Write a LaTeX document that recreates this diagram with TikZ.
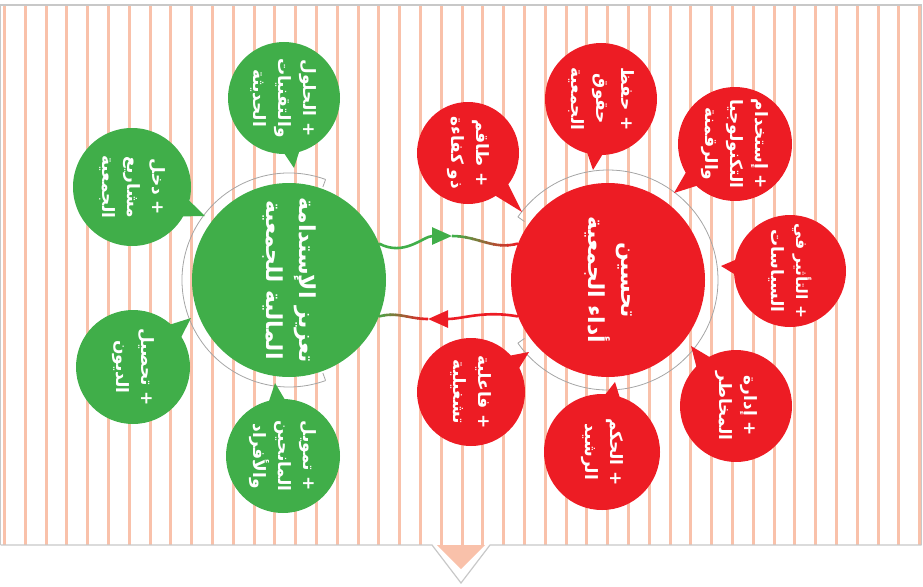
\documentclass[tikz,border=0pt]{standalone}
\usepackage{fontspec}
\setmainfont{DejaVu Sans}
\newfontfamily\arabicfont[Script=Arabic]{DejaVu Sans}
\TeXXeTstate=1
\usetikzlibrary{arrows.meta,calc}
\definecolor{gcol}{RGB}{64,174,73}
\definecolor{rcol}{RGB}{237,28,36}
\definecolor{stripecol}{RGB}{249,193,170}
\definecolor{framecol}{RGB}{200,200,200}
\definecolor{arcgray}{RGB}{165,165,165}
\newcommand{\AR}[1]{\beginR #1\endR}
\newcommand{\bubble}[7]{%
  \coordinate (#1tip) at (#5);
  \node[bub=#4pt, fill=#6] (#1) at (#2,#3) {};
  \pgfmathsetmacro{\bd}{0.42*#4}
  \fill[#6] ($(#1.center)!\bd pt!15:(#1tip)$) -- (#1tip) -- ($(#1.center)!\bd pt!-15:(#1tip)$) -- cycle;
  \node[btext] (#1t) at (#1) {#7};
}
\begin{document}
\begin{tikzpicture}[x=1pt,y=-1pt,
  bub/.style={circle,inner sep=0pt,minimum size=#1},
  btext/.style={rotate=-90,align=center,text=white,inner sep=0pt,font=\arabicfont\bfseries\fontsize{17}{25}\selectfont},
  mtext/.style={rotate=-90,align=center,text=white,inner sep=0pt,font=\arabicfont\bfseries\fontsize{22}{33}\selectfont},
  conn/.style={line width=2.6pt},
  arcline/.style={draw=arcgray,line width=0.8pt}]
\useasboundingbox (0,0) rectangle (923,586);
% stripes
\foreach \i in {0,...,44}{
  \fill[stripecol] ({3+20.8*\i},5) rectangle ++(3,540);
}
% frame
\draw[framecol,line width=1.2pt] (0.6,545) -- (0.6,5) -- (921.5,5) -- (921.5,545);
\fill[stripecol] (437,545) -- (461,569) -- (485,545) -- cycle;
\draw[framecol,line width=1.2pt] (0.6,545) -- (432,545) -- (461,583) -- (490,545) -- (921.5,545);
% main circles
\node[bub=194pt, fill=gcol] (g) at (289,280) {};
\node[bub=194pt, fill=rcol] (r) at (608,280) {};
% gray arcs
\draw[arcline] ($(g)+(-70:107)$) arc[start angle=-70,end angle=-290,radius=107];
\draw[arcline] ($(g)+(-70:107)$) -- ($(g)+(-70:99)$);
\draw[arcline] ($(g)+(70:107)$) -- ($(g)+(70:99)$);
\draw[arcline] ($(r)+(-145:110)$) arc[start angle=-145,end angle=145,radius=110];
\draw[arcline] ($(r)+(-145:110)$) -- ($(r)+(-145:102)$);
\draw[arcline] ($(r)+(145:110)$) -- ($(r)+(145:102)$);
% connectors
\coordinate (tm) at (452,236);
\coordinate (bm) at (428,319);
\draw[conn,gcol,-{Triangle[length=20pt,width=17pt]}] (g.22) to[out=-28,in=180] (tm);
\foreach \i in {0,...,9}{
  \pgfmathtruncatemacro{\p}{100-\i*11}
  \begin{scope}
    \clip ({451+\i*7},215) rectangle ++(8,45);
    \draw[conn,draw=gcol!\p!rcol] (tm) to[out=0,in=-165] (r.158);
  \end{scope}
}
\draw[conn,rcol,-{Triangle[length=20pt,width=17pt]}] (r.202) to[out=170,in=0] (bm);
\foreach \i in {0,...,9}{
  \pgfmathtruncatemacro{\p}{100-\i*11}
  \begin{scope}
    \clip ({429-\i*5.5},300) rectangle ++(-6.5,40);
    \draw[conn,draw=rcol!\p!gcol] (bm) to[out=180,in=15] (g.-22);
  \end{scope}
}
% main texts
\node[mtext] (gt) at (g) {\AR{تعزيز الإستدامة}\\\AR{المالية للجمعية}};
\node[mtext] (rt) at (r) {\AR{تحسين}\\\AR{أداء الجمعية}};
% red bubbles
\bubble{A}{468}{153}{102}{522,212}{rcol}{\AR{+ طاقم}\\\AR{ذو كفاءة}}
\bubble{B}{601}{99}{112}{593,170}{rcol}{\AR{+ حفظ}\\\AR{حقوق}\\\AR{الجمعية}}
\bubble{C}{735}{144}{114}{674,193}{rcol}{\AR{+ إستخدام}\\\AR{التكنولوجيا}\\\AR{والرقمنة}}
\bubble{D}{790}{271}{112}{721,266}{rcol}{\fontsize{15.5}{25}\selectfont\AR{+ التأثير في}\\\AR{السياسات}}
\bubble{E}{736}{406}{112}{691,346}{rcol}{\AR{+ إدارة}\\\AR{المخاطر}}
\bubble{F}{602}{452}{116}{615,382}{rcol}{\AR{+ الحكم}\\\AR{الرشيد}}
\bubble{G}{471}{392}{108}{529,352}{rcol}{\AR{+ فاعلية}\\\AR{تشغيلية}}
% green bubbles
\bubble{H}{284}{98}{112}{294,168}{gcol}{\AR{+ الحلول}\\\AR{والتقنيات}\\\AR{الحديثة}}
\bubble{I}{132}{187}{118}{205,216}{gcol}{\AR{+ دخل}\\\AR{مشاريع}\\\AR{الجمعية}}
\bubble{J}{133}{367}{114}{191,318}{gcol}{\AR{+ تحصيل}\\\AR{الديون}}
\bubble{K}{283}{456}{114}{275,383}{gcol}{\AR{+ تمويل}\\\AR{المانحين}\\\AR{والأفراد}}
\end{tikzpicture}
\end{document}
